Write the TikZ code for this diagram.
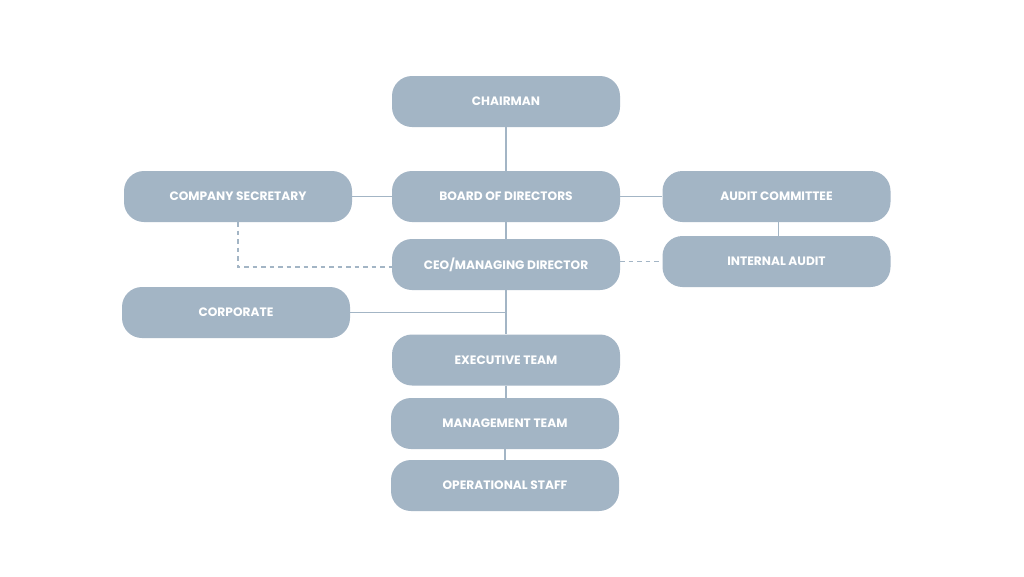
\documentclass[tikz,border=0pt]{standalone}
\usepackage{fontspec}
\setmainfont{Poppins}[BoldFont={* Bold}]
\definecolor{boxc}{HTML}{A3B5C5}
\definecolor{linec}{HTML}{A3B5C5}
\begin{document}
\begin{tikzpicture}[x=1pt,y=-1pt,
  box/.style={fill=boxc, rounded corners=20pt, minimum width=228pt, minimum height=51pt, text=white, font=\bfseries\fontsize{12.2}{14}\selectfont, inner sep=0pt},
  conn/.style={draw=linec, line width=1.8pt},
  dconn/.style={draw=linec, line width=1.6pt, dash pattern=on 4.5pt off 4pt}]
\useasboundingbox[fill=white] (0,0) rectangle (1024,576);
\node[box] (chair) at (506,101.5) {CHAIRMAN};
\node[box] (board) at (506,196.5) {BOARD OF DIRECTORS};
\node[box] (sec) at (238,196.5) {COMPANY SECRETARY};
\node[box] (audit) at (776.5,196.5) {AUDIT COMMITTEE};
\node[box] (ceo) at (506,264.5) {CEO/MANAGING DIRECTOR};
\node[box] (ia) at (776.5,261.5) {INTERNAL AUDIT};
\node[box] (corp) at (236,312.5) {CORPORATE};
\node[box] (exec) at (506,360) {EXECUTIVE TEAM};
\node[box] (mgmt) at (505,423.5) {MANAGEMENT TEAM};
\node[box] (ops) at (505,485.5) {OPERATIONAL STAFF};
\coordinate (j) at (506,312.5);
\coordinate (d) at (238,267);
\draw[conn] (chair.south) -- (board.north);
\draw[conn] (board.south) -- (ceo.north);
\draw[conn] (ceo.south) -- (exec.north);
\draw[conn] (sec.east) -- (board.west);
\draw[conn] (board.east) -- (audit.west);
\draw[conn] ([xshift=2pt]audit.south) -- ([xshift=2pt]ia.north);
\draw[conn] (corp.east) -- (j);
\draw[conn] (exec.south) -- (exec.south |- mgmt.north);
\draw[conn] (mgmt.south) -- (ops.north);
\draw[dconn] (sec.south) -- (d) -- (ceo.west |- d);
\draw[dconn] (ceo.east |- ia.west) -- (ia.west);
\end{tikzpicture}
\end{document}
